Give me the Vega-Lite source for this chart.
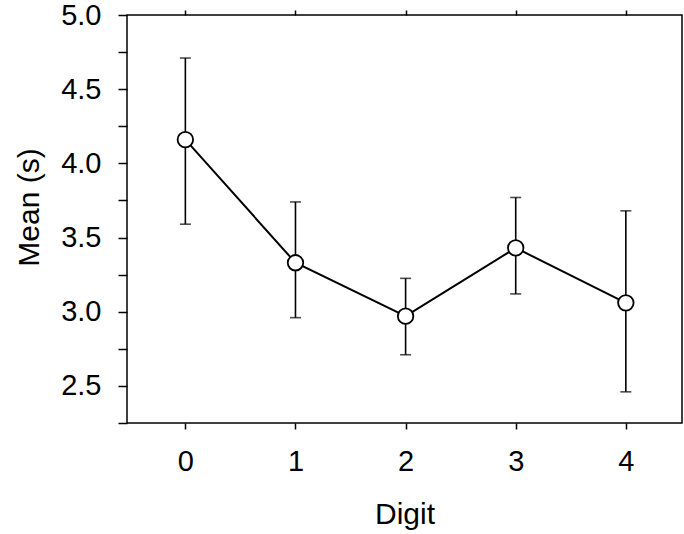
{
  "$schema": "https://vega.github.io/schema/vega-lite/v6.json",
  "autosize": "none",
  "width": 555,
  "height": 408,
  "padding": {"left": 127, "top": 15, "right": 2, "bottom": 111},
  "background": "white",
  "config": {
    "view": {"stroke": "black", "strokeWidth": 1.5},
    "axis": {
      "domain": false,
      "grid": false,
      "tickColor": "black",
      "tickWidth": 1.5,
      "labelColor": "black",
      "titleColor": "black",
      "labelFont": "Liberation Sans",
      "titleFont": "Liberation Sans",
      "titleFontWeight": "normal",
      "labelFontSize": 29,
      "titleFontSize": 30,
      "labelOverlap": false
    }
  },
  "data": {
    "values": [
      {"digit": 0, "mean": 4.16, "lo": 3.59, "hi": 4.71},
      {"digit": 1, "mean": 3.33, "lo": 2.96, "hi": 3.74},
      {"digit": 2, "mean": 2.97, "lo": 2.71, "hi": 3.225},
      {"digit": 3, "mean": 3.43, "lo": 3.12, "hi": 3.77},
      {"digit": 4, "mean": 3.06, "lo": 2.46, "hi": 3.68}
    ]
  },
  "layer": [
    {
      "mark": {"type": "rule", "color": "black", "strokeWidth": 1.6},
      "encoding": {
        "x": {
          "field": "digit",
          "type": "quantitative",
          "scale": {"domain": [-0.53, 4.51], "nice": false, "zero": false},
          "axis": {
            "orient": "bottom",
            "title": "Digit",
            "values": [0, 1, 2, 3, 4],
            "format": "d",
            "tickSize": 6,
            "labelPadding": 18,
            "titlePadding": 23
          }
        },
        "y": {
          "field": "lo",
          "type": "quantitative",
          "scale": {"domain": [2.25, 5.0], "nice": false, "zero": false},
          "axis": {
            "orient": "left",
            "title": "Mean (s)",
            "values": [2.5, 3.0, 3.5, 4.0, 4.5, 5.0],
            "format": ".1f",
            "tickSize": 9,
            "labelPadding": 17,
            "titlePadding": 16,
            "titleY": 192
          }
        },
        "y2": {"field": "hi"}
      }
    },
    {
      "mark": {"type": "tick", "orient": "horizontal", "color": "black", "size": 11, "thickness": 1.6},
      "encoding": {
        "x": {"field": "digit", "type": "quantitative", "axis": null},
        "y": {"field": "lo", "type": "quantitative", "axis": null}
      }
    },
    {
      "mark": {"type": "tick", "orient": "horizontal", "color": "black", "size": 11, "thickness": 1.6},
      "encoding": {
        "x": {"field": "digit", "type": "quantitative", "axis": null},
        "y": {"field": "hi", "type": "quantitative", "axis": null}
      }
    },
    {
      "mark": {"type": "line", "color": "black", "strokeWidth": 2},
      "encoding": {
        "x": {"field": "digit", "type": "quantitative", "axis": null},
        "y": {"field": "mean", "type": "quantitative", "axis": null}
      }
    },
    {
      "mark": {"type": "point", "shape": "circle", "filled": true, "fill": "white", "stroke": "black", "strokeWidth": 1.8, "size": 240, "opacity": 1},
      "encoding": {
        "x": {"field": "digit", "type": "quantitative", "axis": null},
        "y": {"field": "mean", "type": "quantitative", "axis": null}
      }
    },
    {
      "mark": {"type": "point", "opacity": 0},
      "encoding": {
        "x": {
          "field": "digit",
          "type": "quantitative",
          "axis": {"orient": "top", "values": [0, 1, 2, 3, 4], "labels": false, "title": null, "tickSize": 5}
        },
        "y": {
          "field": "mean",
          "type": "quantitative",
          "axis": {"orient": "left", "values": [2.25, 2.75, 3.25, 3.75, 4.25, 4.75], "labels": false, "title": null, "tickSize": 9}
        }
      }
    }
  ],
  "resolve": {"axis": {"x": "independent", "y": "independent"}}
}
